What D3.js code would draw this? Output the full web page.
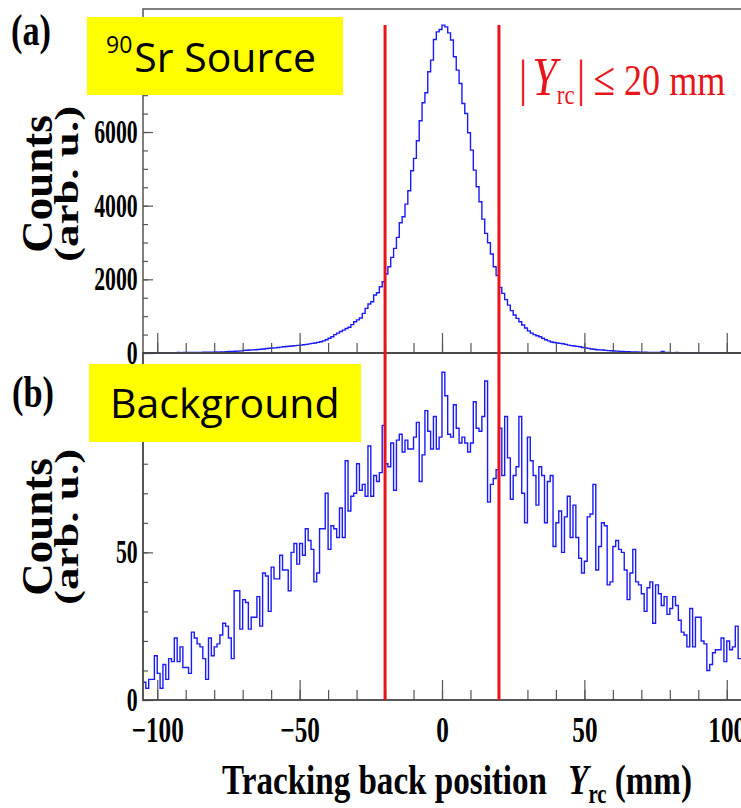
<!DOCTYPE html>
<meta charset="utf-8">
<style>
body { margin: 0; background: #fff; }
svg { display: block; }
.tick text { font-family: "Liberation Serif", "Times New Roman", serif; font-weight: bold; fill: #000; }
.ytick text { font-size: 33px; }
.xtick text { font-size: 35px; }
.tick line { stroke: #555; stroke-width: 1.2px; }
.serif { font-family: "Liberation Serif", "Times New Roman", serif; }
.sans { font-family: "Open Sans", "Noto Sans", sans-serif; }
</style>
<svg width="741" height="808"></svg>
<script src="https://d3js.org/d3.v7.min.js"></script>
<script>

// histogram binning: 1 mm bins from -105 mm to 105 mm
var binLow = -105;
var binWidth = 1;

// (a) 90Sr source, counts per bin
var sourceCounts = [
  5, 3, 8, 4, 6, 3, 5, 7, 4, 6,
  8, 10, 12, 9, 14, 12, 15, 13, 16, 18,
  17, 20, 22, 21, 24, 26, 25, 28, 30, 36,
  40, 42, 48, 52, 58, 70, 75, 80, 84, 90,
  96, 102, 110, 122, 128, 134, 140, 150, 160, 168,
  175, 182, 190, 200, 208, 215, 225, 235, 248, 260,
  272, 288, 305, 330, 360, 400, 440, 500, 540, 585,
  620, 665, 700, 770, 850, 900, 950, 1076, 1212, 1330,
  1393, 1574, 1637, 1800, 1936, 2144, 2343, 2596, 2840, 3139,
  3537, 3700, 4043, 4405, 4948, 5283, 5762, 6305, 6793, 7065,
  7635, 7951, 8512, 8720, 8783, 8901, 8856, 8693, 8500, 8042,
  7680, 7318, 6775, 6504, 5979, 5509, 4966, 4514, 4107, 3636,
  3247, 2994, 2687, 2343, 2100, 1782, 1620, 1450, 1300, 1150,
  1030, 940, 850, 760, 680, 600, 540, 500, 470, 440,
  400, 360, 330, 300, 285, 270, 260, 250, 235, 215,
  200, 190, 180, 170, 150, 140, 125, 110, 100, 90,
  85, 80, 72, 65, 60, 55, 50, 45, 42, 38,
  35, 30, 28, 26, 24, 22, 20, 18, 17, 15,
  14, 18, 40, 15, 12, 11, 10, 12, 9, 10,
  8, 9, 7, 8, 6, 7, 5, 6, 5, 4,
  6, 5, 4, 5, 3, 4, 5, 3, 4, 3
];

// (b) background, counts per bin
var backgroundCounts = [
  6, 4, 7, 7, 15, 9, 4, 12, 7, 14,
  13, 21, 13, 18, 11, 11, 9, 23, 21, 19,
  18, 14, 7, 21, 15, 18, 19, 22, 26, 25,
  21, 14, 37, 37, 24, 34, 33, 24, 28, 28,
  35, 25, 43, 42, 30, 45, 41, 41, 49, 44,
  44, 37, 50, 53, 46, 53, 49, 58, 54, 51,
  40, 43, 58, 58, 70, 51, 59, 58, 55, 65,
  55, 81, 64, 69, 70, 80, 71, 73, 69, 86,
  69, 76, 74, 77, 93, 80, 79, 87, 71, 88,
  90, 84, 88, 85, 85, 89, 94, 74, 83, 98,
  91, 85, 96, 85, 89, 111, 103, 90, 89, 100,
  92, 87, 89, 87, 84, 87, 101, 92, 91, 96,
  108, 67, 73, 75, 78, 92, 76, 96, 82, 68,
  76, 79, 96, 70, 60, 89, 81, 76, 66, 79,
  76, 60, 74, 76, 52, 60, 64, 50, 62, 69,
  55, 66, 55, 48, 43, 47, 62, 63, 73, 44,
  52, 60, 59, 39, 40, 52, 54, 51, 50, 44,
  34, 43, 51, 40, 39, 36, 30, 38, 40, 26,
  39, 36, 32, 35, 29, 31, 35, 32, 27, 23,
  22, 18, 31, 18, 28, 28, 20, 19, 10, 12,
  16, 17, 17, 21, 13, 20, 17, 18, 25, 14
];

var xMajorTicks = [-100, -50, 0, 50, 100];
var xMinorTicks = d3.range(-100, 101, 10);
var topMajorTicks = [0, 2000, 4000, 6000, 8000];
var topMinorTicks = d3.range(0, 9001, 500);
var bottomMajorTicks = [0, 50, 100];
var bottomMinorTicks = d3.range(0, 111, 10);
// labels of 8000 and 100 sit under the yellow boxes, so they are not printed
var topTickLabels = [0, 2000, 4000, 6000];
var bottomTickLabels = [0, 50];
var cutValues = [-20, 20];
var panelLetters = ["(a)", "(b)"];
var panelNames = ["Sr Source", "Background"];

var svg = d3.select("svg");

var left = 143, right = 741;
var topY0 = 9, midY = 353, botY = 700;

var x = d3.scaleLinear().domain([-105, 105]).range([left, right]);
var yTop = d3.scaleLinear().domain([0, 9340]).range([midY, topY0]);
var yBot = d3.scaleLinear().domain([0, 117.5]).range([botY, midY]);

// clip regions for the two pads
var defs = svg.append("defs");
defs.append("clipPath").attr("id", "clipTop").append("rect")
	.attr("x", left).attr("y", topY0).attr("width", right - left).attr("height", midY - topY0);
defs.append("clipPath").attr("id", "clipBot").append("rect")
	.attr("x", left).attr("y", midY).attr("width", right - left).attr("height", botY - midY);

function histPoints(vals) {
	var pts = vals.map(function(v, i) { return [binLow + i * binWidth, v]; });
	pts.push([binLow + vals.length * binWidth, vals[vals.length - 1]]);
	return pts;
}

function drawHist(vals, yScale, clip) {
	var line = d3.line()
		.x(function(d) { return x(d[0]); })
		.y(function(d) { return yScale(d[1]); })
		.curve(d3.curveStepAfter);
	svg.append("path")
		.datum(histPoints(vals))
		.attr("clip-path", "url(#" + clip + ")")
		.attr("d", line)
		.attr("fill", "none")
		.attr("stroke", "#1a1aff")
		.attr("stroke-width", 1.4);
}

drawHist(sourceCounts, yTop, "clipTop");
drawHist(backgroundCounts, yBot, "clipBot");

// y axes (ticks inside the frame)
function yAxis(scale, major, minor, labelled) {
	var gMin = svg.append("g").attr("transform", "translate(" + left + ",0)")
		.call(d3.axisLeft(scale).tickValues(minor).tickSizeInner(-5).tickSizeOuter(0).tickFormat(""));
	gMin.select(".domain").remove();
	var gMaj = svg.append("g").attr("class", "ytick").attr("transform", "translate(" + left + ",0)")
		.call(d3.axisLeft(scale).tickValues(major).tickSizeInner(-10).tickSizeOuter(0).tickPadding(8)
			.tickFormat(function(d) { return labelled.indexOf(d) >= 0 ? d3.format("d")(d) : ""; }));
	gMaj.select(".domain").remove();
	gMaj.selectAll("text").attr("transform", "scale(0.66,1)");
}
yAxis(yTop, topMajorTicks, topMinorTicks, topTickLabels);
yAxis(yBot, bottomMajorTicks, bottomMinorTicks, bottomTickLabels);

// x axes at the bottom of both pads, labels only on the lower one
function xAxis(yPos, labels) {
	var gMin = svg.append("g").attr("transform", "translate(0," + yPos + ")")
		.call(d3.axisBottom(x).tickValues(xMinorTicks).tickSizeInner(-10).tickSizeOuter(0).tickFormat(""));
	gMin.select(".domain").remove();
	var gMaj = svg.append("g").attr("class", "xtick").attr("transform", "translate(0," + yPos + ")")
		.call(d3.axisBottom(x).tickValues(xMajorTicks).tickSizeInner(-20).tickSizeOuter(0).tickPadding(17)
			.tickFormat(labels ? d3.format("d") : ""));
	gMaj.select(".domain").remove();
	gMaj.selectAll("line").attr("stroke", "#888");
	gMaj.selectAll("text").attr("transform", "scale(0.72,1)");
}
xAxis(midY, false);
xAxis(botY, true);

// frames
svg.append("rect").attr("x", left).attr("y", topY0).attr("width", right - left + 5).attr("height", midY - topY0)
	.attr("fill", "none").attr("stroke", "#555").attr("stroke-width", 1.5);
svg.append("rect").attr("x", left).attr("y", midY).attr("width", right - left + 5).attr("height", botY - midY)
	.attr("fill", "none").attr("stroke", "#444").attr("stroke-width", 1.8);

// red cut lines
svg.selectAll(".cut").data(cutValues).enter().append("line")
	.attr("class", "cut")
	.attr("x1", function(d) { return x(d); })
	.attr("x2", function(d) { return x(d); })
	.attr("y1", 25).attr("y2", botY)
	.attr("stroke", "#e8141a").attr("stroke-width", 3);

// red cut label
var cutLabel = svg.append("text").attr("class", "serif")
	.attr("transform", "translate(519,95) scale(0.82,1)")
	.attr("fill", "#e8141a").attr("font-size", 44);
cutLabel.append("tspan").attr("font-size", 50).text("|");
cutLabel.append("tspan").attr("font-size", 54).attr("font-style", "italic").attr("dx", 6).text("Y");
cutLabel.append("tspan").attr("font-size", 28).attr("dy", 9).text("rc");
cutLabel.append("tspan").attr("font-size", 50).attr("dy", -9).attr("dx", 3).text("|");
cutLabel.append("tspan").attr("dx", 10).attr("font-size", 48).text("\u2264");
cutLabel.append("tspan").text(" 20 mm");

// y titles
function yTitle(cy) {
	svg.append("text").attr("class", "serif")
		.attr("transform", "translate(52," + cy + ") rotate(-90)")
		.attr("text-anchor", "middle").attr("font-weight", "bold").attr("font-size", 45)
		.text("Counts");
	svg.append("text").attr("class", "serif")
		.attr("transform", "translate(78," + cy + ") rotate(-90) scale(1,0.75)")
		.attr("text-anchor", "middle").attr("font-weight", "bold").attr("font-size", 45)
		.text("(arb. u.)");
}
yTitle(184);
yTitle(527);

// x title
var xt = svg.append("text").attr("class", "serif")
	.attr("transform", "translate(457,794) scale(0.77,1)")
	.attr("text-anchor", "middle").attr("font-weight", "bold").attr("font-size", 43);
xt.append("tspan").text("Tracking back position\u2002");
xt.append("tspan").attr("font-style", "italic").attr("dx", 6).text("Y");
xt.append("tspan").attr("font-size", 27).attr("dy", 9).text("rc");
xt.append("tspan").attr("dy", -9).text(" (mm)");

// panel letters
svg.append("text").attr("class", "serif").attr("transform", "translate(11,45) scale(0.78,1)")
	.attr("font-weight", "bold").attr("font-size", 44).text(panelLetters[0]);
svg.append("text").attr("class", "serif").attr("transform", "translate(12,407) scale(0.78,1)")
	.attr("font-weight", "bold").attr("font-size", 44).text(panelLetters[1]);

// yellow labels
svg.append("rect").attr("x", 87).attr("y", 17).attr("width", 256).attr("height", 78).attr("fill", "#ffff00");
var st = svg.append("text").attr("class", "sans").attr("x", 106).attr("y", 72).attr("font-size", 41).attr("fill", "#000");
st.append("tspan").attr("font-size", 23).attr("dy", -19).text("90");
st.append("tspan").attr("dy", 19).attr("dx", 2).text(panelNames[0]);

svg.append("rect").attr("x", 89).attr("y", 364).attr("width", 272).attr("height", 78).attr("fill", "#ffff00");
svg.append("text").attr("class", "sans").attr("x", 110).attr("y", 418).attr("font-size", 41).attr("fill", "#000")
	.text(panelNames[1]);

</script>
